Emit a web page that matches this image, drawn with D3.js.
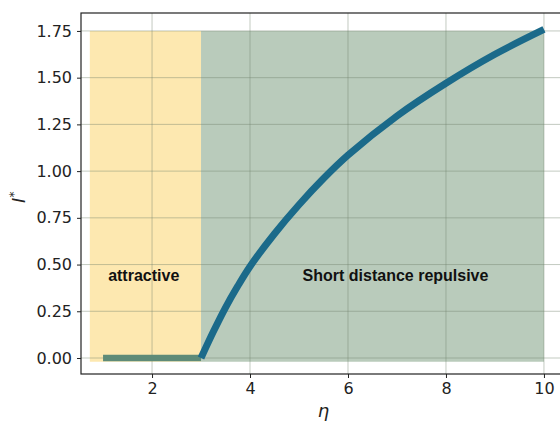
<!DOCTYPE html>
<html>
<head>
<meta charset="utf-8">
<script src="https://cdn.jsdelivr.net/npm/d3@7"></script>
<style>
  body { margin: 0; background: #fff; }
  svg { display: block; }
  text { font-family: "DejaVu Sans", sans-serif; }
</style>
</head>
<body>
<script>
// data
const flatN = [1, 3];
const flatI = [0, 0];
const curveN = [3, 3.25, 3.5, 3.75, 4, 4.5, 5, 5.5, 6, 7, 8, 9, 10];
const curveI = [0, 0.14, 0.27, 0.385, 0.49, 0.665, 0.82, 0.96, 1.085, 1.295, 1.47, 1.625, 1.758];
const regions = [
  { name: "attractive", x0: 0.73, x1: 3, fill: "#fde8b0" },
  { name: "Short distance repulsive", x0: 3, x1: 10, fill: "#b9cbbb" }
];
const xTicks = [2, 4, 6, 8, 10];
const yTicks = [0, 0.25, 0.5, 0.75, 1, 1.25, 1.5, 1.75];

const width = 560, height = 421;
const margin = { top: 13, right: -6, bottom: 47, left: 81 };

const svg = d3.select("body").append("svg")
  .attr("width", width)
  .attr("height", height);

const x = d3.scaleLinear().domain([0.55, 10.45]).range([margin.left, width - margin.right]);
const y = d3.scaleLinear().domain([-0.0856, 1.846]).range([height - margin.bottom, margin.top]);

// shaded regions
svg.selectAll(".region")
  .data(regions)
  .enter()
  .append("rect")
  .attr("class", "region")
  .attr("x", d => x(d.x0))
  .attr("width", d => x(d.x1) - x(d.x0))
  .attr("y", y(1.75))
  .attr("height", y(-0.02) - y(1.75))
  .attr("fill", d => d.fill);

// grid (drawn over fills with low opacity)
const grid = svg.append("g").attr("stroke", "#6f806c").attr("stroke-opacity", 0.42).attr("stroke-width", 1);
grid.selectAll(".gx").data(xTicks).enter().append("line")
  .attr("x1", d => x(d)).attr("x2", d => x(d))
  .attr("y1", margin.top).attr("y2", height - margin.bottom);
grid.selectAll(".gy").data(yTicks).enter().append("line")
  .attr("x1", margin.left).attr("x2", width - margin.right)
  .attr("y1", d => y(d)).attr("y2", d => y(d));

// region labels
const labelPos = [[1.83, 0.41], [6.97, 0.41]];
svg.selectAll(".rlabel")
  .data(regions)
  .enter()
  .append("text")
  .attr("class", "rlabel")
  .attr("x", (d, i) => x(labelPos[i][0]))
  .attr("y", (d, i) => y(labelPos[i][1]))
  .attr("text-anchor", "middle")
  .style("font-family", "'Liberation Sans', Arial, sans-serif")
  .style("font-weight", "bold")
  .style("font-size", "16px")
  .attr("fill", "#111")
  .text(d => d.name);

const line = d3.line().x(d => x(d[0])).y(d => y(d[1]));

// flat segment
svg.append("path")
  .datum(d3.zip(flatN, flatI))
  .attr("d", line)
  .attr("fill", "none")
  .attr("stroke", "#5e8b78")
  .attr("stroke-width", 6.5);

// curve
svg.append("path")
  .datum(d3.zip(curveN, curveI))
  .attr("d", line.curve(d3.curveCatmullRom.alpha(0.5)))
  .attr("fill", "none")
  .attr("stroke", "#1b6a8a")
  .attr("stroke-width", 7);

// axes
const xAxis = svg.append("g")
  .attr("transform", `translate(0,${height - margin.bottom})`)
  .call(d3.axisBottom(x).tickValues(xTicks).tickSize(4).tickPadding(5).tickFormat(d3.format("d")));
const yAxis = svg.append("g")
  .attr("transform", `translate(${margin.left},0)`)
  .call(d3.axisLeft(y).tickValues(yTicks).tickSize(4).tickPadding(5).tickFormat(d3.format(".2f")));

[xAxis, yAxis].forEach(a => {
  a.selectAll("text").style("font-size", "16px").attr("fill", "#222");
  a.selectAll("line").attr("stroke", "#222");
  a.select(".domain").remove();
});

// spines
svg.append("rect")
  .attr("x", margin.left).attr("y", margin.top)
  .attr("width", x.range()[1] - margin.left)
  .attr("height", height - margin.bottom - margin.top)
  .attr("fill", "none")
  .attr("stroke", "#222")
  .attr("stroke-width", 1.2);

// axis labels
svg.append("text")
  .attr("x", (x.range()[0] + x.range()[1]) / 2)
  .attr("y", 417)
  .attr("text-anchor", "middle")
  .style("font-size", "18px")
  .style("font-style", "italic")
  .attr("fill", "#222")
  .text("η");

const yl = svg.append("text")
  .attr("transform", `translate(25,${y(0.86)}) rotate(-90)`)
  .attr("text-anchor", "middle")
  .style("font-size", "18px")
  .attr("fill", "#222");
yl.append("tspan").style("font-style", "italic").text("I");
yl.append("tspan").attr("dy", -7).style("font-size", "12px").text("*");
</script>
</body>
</html>
